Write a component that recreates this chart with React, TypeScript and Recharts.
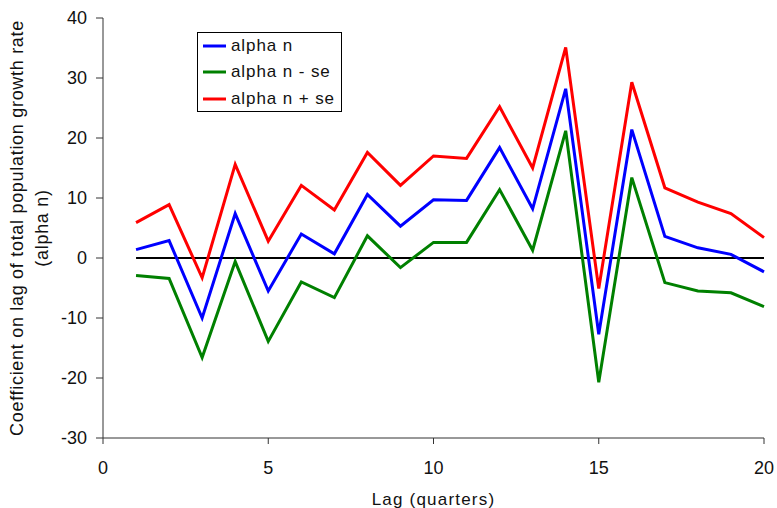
import React from "react";
import { LineChart, Line, XAxis, YAxis, ReferenceLine, Legend } from "recharts";

const lags = [1, 2, 3, 4, 5, 6, 7, 8, 9, 10, 11, 12, 13, 14, 15, 16, 17, 18, 19, 20];
const alphaN = [1.4, 2.9, -10.0, 7.4, -5.5, 4.0, 0.7, 10.6, 5.3, 9.7, 9.6, 18.4, 8.2, 28.2, -12.7, 21.4, 3.6, 1.7, 0.6, -2.3];
const alphaNMinusSe = [-2.9, -3.4, -16.6, -0.6, -13.9, -4.0, -6.6, 3.7, -1.6, 2.6, 2.6, 11.4, 1.3, 21.2, -20.7, 13.4, -4.1, -5.5, -5.8, -8.1];
const alphaNPlusSe = [5.9, 8.9, -3.3, 15.6, 2.8, 12.1, 8.0, 17.6, 12.1, 17.0, 16.6, 25.2, 15.0, 35.1, -5.1, 29.3, 11.7, 9.3, 7.4, 3.4];
const seriesNames = ["alpha n", "alpha n - se", "alpha n + se"];

const xTicks = [0, 5, 10, 15, 20];
const yTicks = [-30, -20, -10, 0, 10, 20, 30, 40];

const FONT = '"Liberation Sans", Arial, Helvetica, sans-serif';

const data = lags.map((lag, i) => ({
  lag,
  n: alphaN[i],
  lo: alphaNMinusSe[i],
  hi: alphaNPlusSe[i],
}));

function YTitle(props: any) {
  const vb = props.viewBox || { y: 18, height: 420 };
  const cy = vb.y + vb.height / 2;
  const style = { fontFamily: FONT, fontSize: 18, fill: "#111", letterSpacing: 0.7 };
  return (
    <g>
      <text x={23} y={cy} textAnchor="middle" transform={`rotate(-90 23 ${cy})`} style={style}>
        Coefficient on lag of total population growth rate
      </text>
      <text x={48} y={cy} textAnchor="middle" transform={`rotate(-90 48 ${cy})`} style={style}>
        (alpha n)
      </text>
    </g>
  );
}

function LegendBox({ payload }: any) {
  const items = [...(payload || [])].sort(
    (a: any, b: any) => seriesNames.indexOf(a.value) - seriesNames.indexOf(b.value)
  );
  return (
    <div
      style={{
        width: 145,
        height: 80,
        border: "1px solid #000",
        background: "#fff",
        fontFamily: FONT,
        fontSize: 17,
        letterSpacing: 0.9,
        color: "#111",
        boxSizing: "border-box",
      }}
    >
      {items.map((p: any) => (
        <div key={p.value} style={{ height: 26.3, display: "flex", alignItems: "center" }}>
          <svg width={33} height={6} style={{ flex: "none" }}>
            <line x1={5} y1={3} x2={28} y2={3} stroke={p.color} strokeWidth={3} />
          </svg>
          <span style={{ whiteSpace: "nowrap" }}>{p.value}</span>
        </div>
      ))}
    </div>
  );
}

export default function App() {
  return (
    <div style={{ position: "absolute", left: 0, top: 0, width: 777, height: 508, background: "#fff" }}>
      <LineChart width={777} height={508} data={data} margin={{ top: 18, right: 13, left: 0, bottom: 0 }}>
        <XAxis
          dataKey="lag"
          type="number"
          domain={[0, 20]}
          ticks={xTicks}
          height={70}
          tickSize={6}
          tickMargin={17}
          stroke="#333"
          tick={{ fill: "#111", fontSize: 18, fontFamily: FONT }}
          label={{
            value: "Lag (quarters)",
            position: "insideBottom",
            offset: 3,
            style: { fontFamily: FONT, fontSize: 17, fill: "#111", letterSpacing: 1.2 },
          }}
        />
        <YAxis
          type="number"
          domain={[-30, 40]}
          ticks={yTicks}
          width={103}
          tickSize={7}
          tickMargin={9}
          stroke="#333"
          tick={{ fill: "#111", fontSize: 18, fontFamily: FONT }}
          label={<YTitle />}
        />
        <ReferenceLine
          segment={[
            { x: 1, y: 0 },
            { x: 20, y: 0 },
          ]}
          stroke="#000"
          strokeWidth={2}
        />
        <Legend
          content={<LegendBox />}
          layout="vertical"
          verticalAlign="middle"
          align="center"
          wrapperStyle={{ top: 32, left: 197, width: 145 }}
        />
        <Line type="linear" dataKey="n" name={seriesNames[0]} stroke="#0000ff" strokeWidth={3} dot={false} isAnimationActive={false} />
        <Line type="linear" dataKey="lo" name={seriesNames[1]} stroke="#008000" strokeWidth={3} dot={false} isAnimationActive={false} />
        <Line type="linear" dataKey="hi" name={seriesNames[2]} stroke="#ff0000" strokeWidth={3} dot={false} isAnimationActive={false} />
      </LineChart>
    </div>
  );
}
